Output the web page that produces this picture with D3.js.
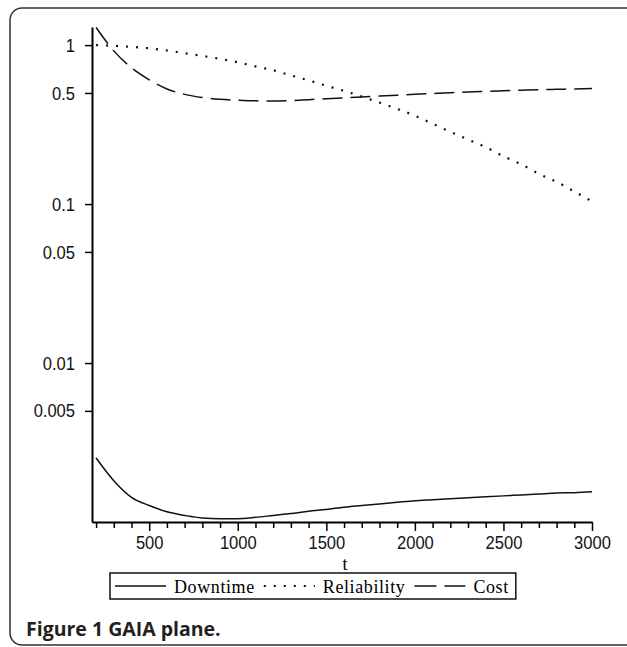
<!DOCTYPE html>
<html>
<head>
<meta charset="utf-8">
<script src="https://cdn.jsdelivr.net/npm/d3@7"></script>
<style>
  body { margin: 0; background: #fff; }
  svg { display: block; }
</style>
</head>
<body>
<svg id="chart" width="627" height="647"></svg>
<script>
// t values (x axis)
var tValues = [200, 300, 400, 500, 600, 700, 800, 900, 1000, 1100, 1200, 1300, 1400, 1500,
    1600, 1700, 1800, 1900, 2000, 2100, 2200, 2300, 2400, 2500, 2600, 2700, 2800, 2900, 3000];

// series (log y)
var downtime = [0.00253, 0.00182, 0.00143, 0.00127, 0.00116, 0.00110, 0.00106, 0.00105, 0.00105,
    0.00107, 0.00110, 0.00113, 0.00117, 0.00120, 0.00124, 0.00127, 0.00130, 0.00133, 0.00136,
    0.00138, 0.00140, 0.00142, 0.00144, 0.00146, 0.00148, 0.00150, 0.00152, 0.00153, 0.00155];
var reliability = [1.0, 0.99, 0.975, 0.955, 0.925, 0.89, 0.855, 0.82, 0.78, 0.735, 0.695, 0.645,
    0.60, 0.555, 0.515, 0.475, 0.435, 0.397, 0.36, 0.32, 0.285, 0.255, 0.228, 0.20, 0.178, 0.155,
    0.138, 0.12, 0.104];
var cost = [1.29, 0.92, 0.72, 0.605, 0.53, 0.49, 0.468, 0.456, 0.45, 0.446, 0.445, 0.448, 0.454,
    0.46, 0.466, 0.472, 0.478, 0.484, 0.49, 0.496, 0.502, 0.507, 0.512, 0.516, 0.52, 0.524, 0.527,
    0.53, 0.533];

var seriesNames = ["Downtime", "Reliability", "Cost"];
var seriesDash = ["none", "2,8", "20,8"];

var yTicks = [1, 0.5, 0.1, 0.05, 0.01, 0.005];
var yTickLabels = ["1", "0.5", "0.1", "0.05", "0.01", "0.005"];
var xMajorTicks = [500, 1000, 1500, 2000, 2500, 3000];
var xMinorTicks = [200, 300, 400, 600, 700, 800, 900, 1100, 1200, 1300, 1400, 1600, 1700, 1800,
    1900, 2100, 2200, 2300, 2400, 2600, 2700, 2800, 2900];

var svg = d3.select("#chart");

// outer rounded frame (runs off the right edge like the scan)
svg.append("rect")
    .attr("x", 10).attr("y", 8)
    .attr("width", 640).attr("height", 637)
    .attr("rx", 12)
    .attr("fill", "none")
    .attr("stroke", "#333")
    .attr("stroke-width", 1.5);

var x = d3.scaleLinear().domain([177, 3000]).range([92, 592]);
var y = d3.scaleLog().domain([0.001, 1.3]).range([522, 27]);

var labelFont = "'Liberation Sans', sans-serif";
var serifFont = "'Liberation Serif', 'DejaVu Serif', serif";

// squeeze tick labels a little, the scan uses a narrow font
function narrow(sel) {
    sel.each(function () {
        var w = this.getComputedTextLength();
        d3.select(this).attr("textLength", w * 0.87).attr("lengthAdjust", "spacingAndGlyphs");
    });
}

// y axis
var yAxis = d3.axisLeft(y)
    .tickValues(yTicks)
    .tickFormat(function (d, i) { return yTickLabels[i]; })
    .tickSize(7)
    .tickSizeOuter(0)
    .tickPadding(10);
var gy = svg.append("g")
    .attr("transform", "translate(" + x.range()[0] + ",0)")
    .call(yAxis);
gy.select(".domain").attr("stroke-width", 2);
gy.selectAll(".tick line").attr("stroke-width", 1.5);
gy.selectAll(".tick text")
    .attr("font-family", labelFont)
    .attr("font-size", 19)
    .attr("fill", "#111")
    .call(narrow);

// x axis - minor ticks first, then major with labels
svg.append("g")
    .attr("transform", "translate(0," + y.range()[0] + ")")
    .call(d3.axisBottom(x).tickValues(xMinorTicks).tickSize(6).tickSizeOuter(0).tickFormat(""))
    .call(function (g) { g.select(".domain").remove(); })
    .selectAll(".tick line").attr("stroke-width", 1.5);

var gx = svg.append("g")
    .attr("transform", "translate(0," + y.range()[0] + ")")
    .call(d3.axisBottom(x).tickValues(xMajorTicks).tickFormat(d3.format("d"))
        .tickSize(9).tickSizeOuter(0).tickPadding(5));
gx.select(".domain").attr("stroke-width", 2);
gx.selectAll(".tick line").attr("stroke-width", 1.5);
gx.selectAll(".tick text")
    .attr("font-family", labelFont)
    .attr("font-size", 19)
    .attr("fill", "#111")
    .call(narrow);

// x axis label
svg.append("text")
    .attr("x", (x(200) + x(3000)) / 2 + 1)
    .attr("y", 570)
    .attr("text-anchor", "middle")
    .attr("font-family", serifFont)
    .attr("font-size", 18)
    .text("t");

// lines
var allSeries = [downtime, reliability, cost];
var line = d3.line()
    .x(function (d, i) { return x(tValues[i]); })
    .y(function (d) { return y(d); })
    .curve(d3.curveMonotoneX);

svg.selectAll(".series")
    .data(allSeries)
    .enter()
    .append("path")
    .attr("class", "series")
    .attr("d", line)
    .attr("fill", "none")
    .attr("stroke", "#111")
    .attr("stroke-width", function (d, i) { return i == 1 ? 2.2 : 1.5; })
    .attr("stroke-dasharray", function (d, i) { return seriesDash[i]; });

// legend
var legend = svg.append("g");
var legendY = 586;
var cx = 115;
seriesNames.forEach(function (name, i) {
    legend.append("line")
        .attr("x1", cx).attr("x2", cx + 51)
        .attr("y1", legendY).attr("y2", legendY)
        .attr("stroke", "#111")
        .attr("stroke-width", i == 1 ? 2.2 : 1.5)
        .attr("stroke-dasharray", i == 2 ? "22,8" : seriesDash[i]);
    var t = legend.append("text")
        .attr("x", cx + 59)
        .attr("y", legendY + 7)
        .attr("font-family", serifFont)
        .attr("font-size", 18)
        .attr("letter-spacing", 0.6)
        .text(name);
    cx = cx + 59 + t.node().getComputedTextLength() + 9;
});
legend.insert("rect", ":first-child")
    .attr("x", 110).attr("y", 573)
    .attr("width", cx - 110 - 2).attr("height", 26)
    .attr("fill", "#fff")
    .attr("stroke", "#111")
    .attr("stroke-width", 1.5);

// caption
svg.append("text")
    .attr("x", 26)
    .attr("y", 636)
    .attr("font-family", "'Open Sans', 'Noto Sans', sans-serif")
    .attr("font-weight", "bold")
    .attr("font-size", 19.5)
    .attr("fill", "#231f20")
    .text("Figure 1 GAIA plane.");
</script>
</body>
</html>
